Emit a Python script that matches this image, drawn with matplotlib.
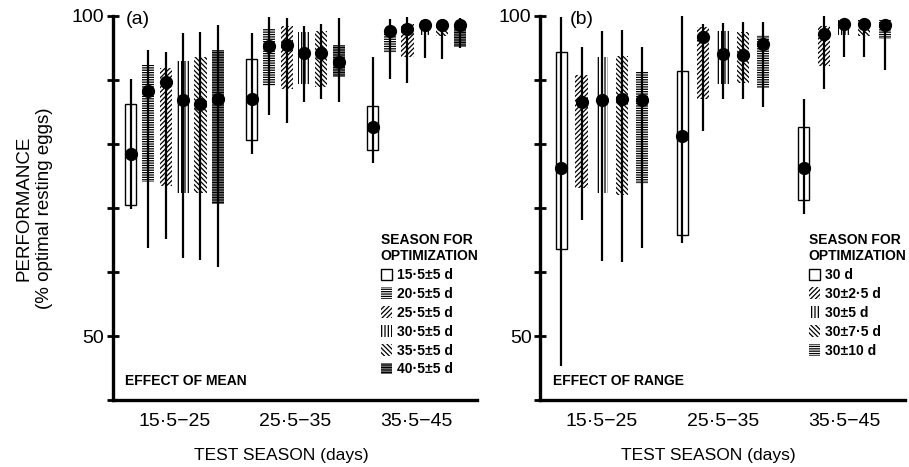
import matplotlib.pyplot as plt
from matplotlib.patches import Patch

plt.rcParams['font.family'] = ['Liberation Sans', 'DejaVu Sans']
plt.rcParams['hatch.linewidth'] = 0.9

# test seasons (x categories)
test_seasons = ["15·5−25", "25·5−35", "35·5−45"]

# panel (a): effect of mean -- one row per optimization season, one value per test season
mean_labels = ["15·5±5 d", "20·5±5 d", "25·5±5 d", "30·5±5 d", "35·5±5 d", "40·5±5 d"]
mean_hatches = [None, "-------", "///////", "|||||", "\\\\\\\\\\\\\\", "----------"]
mean_hi = [
    [90.1, 97.3, 93.6],
    [94.7, 99.8, 99.5],
    [94.4, 99.7, 99.8],
    [97.3, 98.4, 99.4],
    [97.5, 98.7, 99.5],
    [98.6, 99.7, 99.7],
]
mean_q3 = [
    [86.2, 93.3, 85.9],
    [92.3, 98.0, 97.3],
    [91.8, 98.4, 98.7],
    [93.0, 97.5, 99.4],
    [93.6, 97.6, 98.6],
    [94.7, 95.5, 98.6],
]
mean_med = [
    [78.4, 87.0, 82.6],
    [88.2, 95.3, 97.6],
    [89.7, 95.5, 98.0],
    [86.8, 94.2, 98.6],
    [86.2, 94.2, 98.6],
    [87.0, 92.8, 98.6],
]
mean_q1 = [
    [70.4, 80.6, 79.0],
    [74.1, 89.0, 94.2],
    [73.4, 88.6, 93.6],
    [72.4, 89.3, 97.0],
    [72.3, 88.9, 96.9],
    [70.7, 90.4, 95.1],
]
mean_lo = [
    [69.9, 78.5, 77.1],
    [63.8, 84.5, 90.1],
    [65.2, 83.2, 89.5],
    [62.2, 86.5, 93.4],
    [61.9, 87.0, 93.3],
    [60.8, 86.5, 95.0],
]

# panel (b): effect of range
range_labels = ["30 d", "30±2·5 d", "30±5 d", "30±7·5 d", "30±10 d"]
range_hatches = [None, "///////", "|||||", "\\\\\\\\\\\\\\", "-------"]
range_hi = [
    [99.8, 100.0, 87.0],
    [95.1, 98.7, 100.0],
    [97.6, 98.9, 99.4],
    [97.8, 99.1, 99.4],
    [95.1, 99.1, 99.4],
]
range_q3 = [
    [94.4, 91.4, 82.6],
    [90.8, 98.3, 98.4],
    [93.6, 97.6, 99.4],
    [93.7, 97.5, 99.4],
    [91.4, 97.0, 99.4],
]
range_med = [
    [76.2, 81.3, 76.2],
    [86.5, 96.7, 97.2],
    [86.8, 94.0, 98.7],
    [87.1, 93.9, 98.7],
    [86.8, 95.6, 98.6],
]
range_q1 = [
    [63.6, 65.8, 71.3],
    [73.2, 87.1, 92.2],
    [72.3, 89.3, 97.0],
    [72.1, 89.5, 96.9],
    [73.7, 88.7, 96.4],
]
range_lo = [
    [45.3, 64.6, 69.1],
    [68.2, 82.0, 88.6],
    [61.8, 87.0, 93.6],
    [61.5, 87.0, 93.6],
    [63.8, 85.7, 91.5],
]


def draw_panel(ax, hi, q3, med, q1, lo, hatches, labels, step, tag, tag_x, note):
    n = len(hi)
    x0 = range(1, len(test_seasons) + 1)
    for i in range(n):
        pos = [g + (i - (n - 1) / 2) * step for g in x0]
        heights = [a - b for a, b in zip(q3[i], q1[i])]
        if hatches[i] is None:
            ax.bar(pos, heights, bottom=q1[i], width=0.09, facecolor="none",
                   edgecolor="black", linewidth=1.0, zorder=1)
        else:
            ax.bar(pos, heights, bottom=q1[i], width=0.1, facecolor="none",
                   edgecolor="black", linewidth=0, hatch=hatches[i], zorder=1)
        ax.vlines(pos, lo[i], hi[i], color="black", linewidth=1.6, zorder=2)
        ax.plot(pos, med[i], "o", color="black", markersize=8.5, zorder=3)

    ax.set_xlim(0.49, 3.505)
    ax.set_ylim(40, 100)
    ax.set_xticks(list(x0))
    ax.set_xticklabels(test_seasons)
    ax.set_yticks(range(40, 101, 10))
    ax.set_yticklabels(["", "50", "", "", "", "", "100"])
    for s in ["top", "right"]:
        ax.spines[s].set_visible(False)
    ax.spines["left"].set_linewidth(2.4)
    ax.spines["bottom"].set_linewidth(2.4)
    ax.tick_params(axis="y", direction="inout", length=8, width=2, labelsize=14, pad=2)
    ax.tick_params(axis="x", length=0, labelsize=14, pad=9)
    ax.set_xlabel("TEST SEASON (days)", fontsize=12.5)
    ax.xaxis.set_label_coords(0.462, -0.125)

    handles = []
    for h in hatches:
        if h is None:
            handles.append(Patch(facecolor="white", edgecolor="black", linewidth=1.0))
        else:
            handles.append(Patch(facecolor="white", edgecolor="black", linewidth=0, hatch=h))
    ax.legend(handles, labels, title="SEASON FOR\nOPTIMIZATION", loc="upper left",
              bbox_to_anchor=(0.735, 0.435), frameon=False,
              prop={"size": 10, "weight": "bold"}, title_fontproperties={"size": 10, "weight": "bold"},
              handlelength=0.8, handleheight=0.9, handletextpad=0.4,
              labelspacing=0.35, borderpad=0, borderaxespad=0, alignment="left")

    ax.text(tag_x, 0.99, tag, transform=ax.transAxes, fontsize=14, ha="center", va="center")
    ax.text(0.035, 0.05, note, transform=ax.transAxes, fontsize=10, fontweight="bold",
            ha="left", va="center")


fig = plt.figure(figsize=(9.09, 4.67), dpi=100)
ax1 = fig.add_axes([0.124, 0.143, 0.401, 0.823])
ax2 = fig.add_axes([0.594, 0.143, 0.402, 0.823])

draw_panel(ax1, mean_hi, mean_q3, mean_med, mean_q1, mean_lo, mean_hatches, mean_labels,
           0.144, "(a)", 0.07, "EFFECT OF MEAN")
draw_panel(ax2, range_hi, range_q3, range_med, range_q1, range_lo, range_hatches, range_labels,
           0.167, "(b)", 0.115, "EFFECT OF RANGE")

ax1.set_ylabel("PERFORMANCE\n(% optimal resting eggs)", fontsize=13.5)
ax1.yaxis.set_label_coords(-0.165, 0.5)

fig.savefig("out.png", dpi=100)
